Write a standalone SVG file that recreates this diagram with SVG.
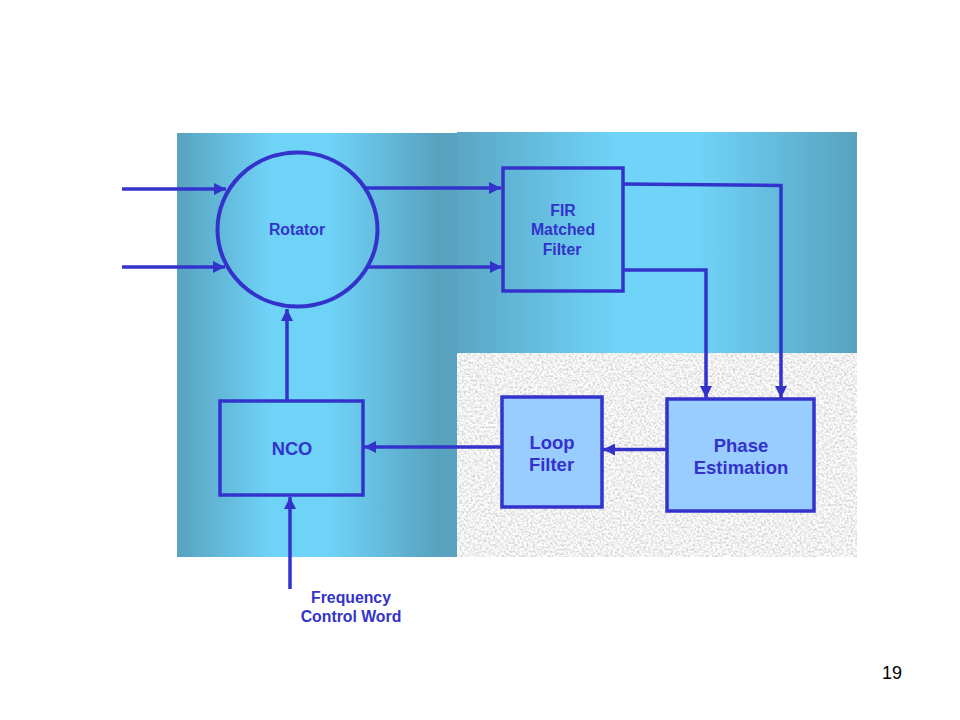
<svg xmlns="http://www.w3.org/2000/svg" width="960" height="720" viewBox="0 0 960 720">
  <defs>
    <style>
      .ln { fill: none; stroke: #3333cc; stroke-width: 3.5; stroke-linejoin: miter; }
      .box { stroke: #3333cc; stroke-width: 3.5; }
      .lbl { font-family: "Liberation Sans", Arial, sans-serif; font-weight: bold; fill: #3333cc; text-anchor: middle; }
      .s15 { font-size: 15.8px; }
      .s18 { font-size: 18.5px; }
    </style>
    <linearGradient id="gLeft" x1="177" y1="0" x2="457" y2="0" gradientUnits="userSpaceOnUse">
      <stop offset="0" stop-color="#58a2bf"/>
      <stop offset="0.33" stop-color="#6fd2f7"/>
      <stop offset="0.55" stop-color="#6fd2f7"/>
      <stop offset="0.93" stop-color="#58a2bf"/>
      <stop offset="1" stop-color="#58a2bf"/>
    </linearGradient>
    <linearGradient id="gRight" x1="457" y1="0" x2="857" y2="0" gradientUnits="userSpaceOnUse">
      <stop offset="0" stop-color="#5aa6c4"/>
      <stop offset="0.4" stop-color="#70d3f8"/>
      <stop offset="0.6" stop-color="#70d3f8"/>
      <stop offset="1" stop-color="#58a2bf"/>
    </linearGradient>
    <filter id="noise" x="0" y="0" width="100%" height="100%" color-interpolation-filters="sRGB">
      <feTurbulence type="fractalNoise" baseFrequency="0.45" numOctaves="3" seed="7" result="t"/>
      <feColorMatrix in="t" type="matrix" values="0.4 0 0 0 0.74  0.4 0 0 0 0.74  0.4 0 0 0 0.74  0 0 0 0 1"/>
    </filter>
    <marker id="ah" viewBox="0 0 12 12" refX="12" refY="6" markerWidth="12" markerHeight="12" markerUnits="userSpaceOnUse" orient="auto">
      <path d="M0,0 L12,6 L0,12 Z" fill="#3333cc"/>
    </marker>
  </defs>

  <rect width="960" height="720" fill="#ffffff"/>

  <g id="background">
    <rect x="457" y="132" width="400" height="222" fill="url(#gRight)"/>
    <rect x="456" y="353" width="401" height="204" fill="#e9e9e9" filter="url(#noise)"/>
    <rect x="177" y="133" width="280" height="424" fill="url(#gLeft)"/>
  </g>

  <g id="connectors">
    <line class="ln" x1="122" y1="189" x2="226" y2="189" marker-end="url(#ah)"/>
    <line class="ln" x1="122" y1="267" x2="225" y2="267" marker-end="url(#ah)"/>
    <line class="ln" x1="366" y1="188" x2="501" y2="188" marker-end="url(#ah)"/>
    <line class="ln" x1="368" y1="267" x2="502" y2="267" marker-end="url(#ah)"/>
    <polyline class="ln" points="623,184 781,185.5 781,398" marker-end="url(#ah)"/>
    <polyline class="ln" points="623,270 706,270 706,398" marker-end="url(#ah)"/>
    <line class="ln" x1="667" y1="449.5" x2="603" y2="449.5" marker-end="url(#ah)"/>
    <line class="ln" x1="501" y1="447" x2="364" y2="447" marker-end="url(#ah)"/>
    <line class="ln" x1="287" y1="401" x2="287" y2="309" marker-end="url(#ah)"/>
    <line class="ln" x1="290" y1="589" x2="290" y2="497" marker-end="url(#ah)"/>
  </g>

  <g id="rotator">
    <ellipse cx="297.5" cy="229.5" rx="80" ry="77" fill="none" stroke="#3333cc" stroke-width="4"/>
    <text class="lbl s15" x="297" y="235">Rotator</text>
  </g>

  <g id="fir">
    <rect class="box" x="503" y="168" width="120" height="123" fill="none"/>
    <text class="lbl s15" x="563" y="216">FIR</text>
    <text class="lbl s15" x="563" y="235">Matched</text>
    <text class="lbl s15" x="562" y="255">Filter</text>
  </g>

  <g id="phase">
    <rect class="box" x="667" y="399" width="147" height="112" fill="#99ccff"/>
    <text class="lbl s18" x="741" y="452">Phase</text>
    <text class="lbl s18" x="741" y="473.5">Estimation</text>
  </g>

  <g id="loop">
    <rect class="box" x="502" y="397" width="100" height="110" fill="#99ccff"/>
    <text class="lbl s18" x="552" y="448.5">Loop</text>
    <text class="lbl s18" x="551.5" y="471">Filter</text>
  </g>

  <g id="nco">
    <rect class="box" x="220" y="401" width="143" height="94" fill="none"/>
    <text class="lbl" style="font-size:18.3px" x="292" y="455">NCO</text>
  </g>

  <g id="fcw">
    <text class="lbl s15" x="351" y="603">Frequency</text>
    <text class="lbl s15" x="351" y="622">Control Word</text>
  </g>

  <text x="892" y="679" font-family="Liberation Sans, Arial, sans-serif" font-size="18" fill="#000000" text-anchor="middle">19</text>
</svg>
